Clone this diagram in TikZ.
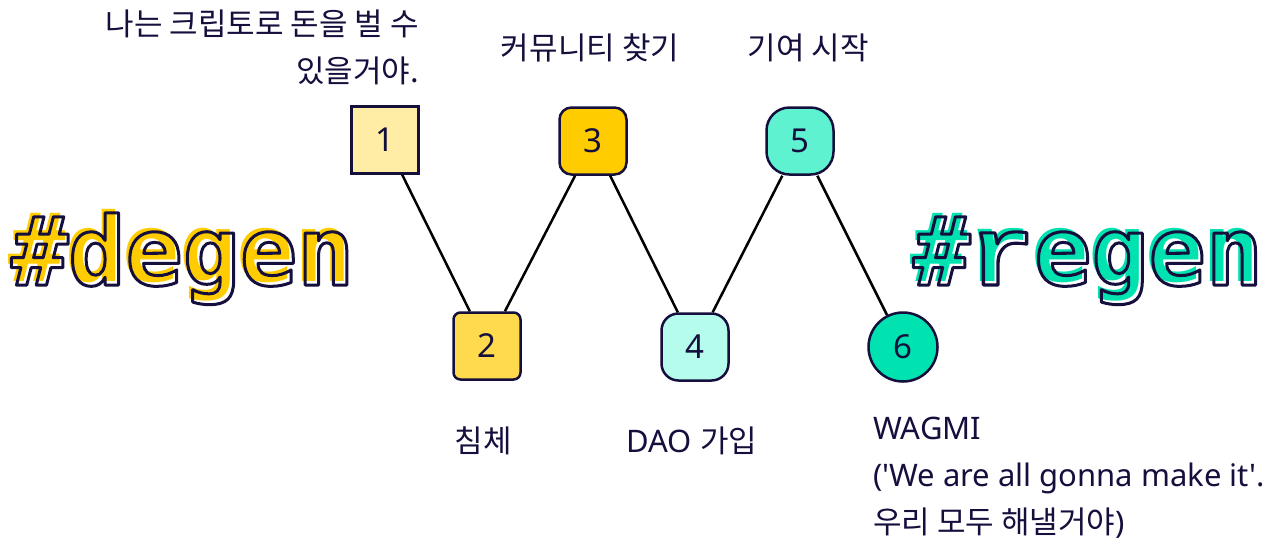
\documentclass[tikz,border=0pt]{standalone}
\usepackage{fontspec}
\usepackage{graphicx}
\setmainfont{Noto Sans}
\newfontfamily\kr{Noto Sans CJK KR}
\newfontfamily\hashfont{DejaVu Sans Mono Bold}
\newfontfamily\slabfont{Liberation Mono Bold}
\newcommand\outlineon{\special{pdf:literal direct 1 Tr 3 w 1 j}}
\newcommand\outlineoff{\special{pdf:literal direct 0 Tr}}
\newcommand\numfont{\fontsize{33pt}{33pt}\selectfont}
\newcommand\lblfont{\fontsize{31pt}{47pt}\selectfont}
\newcommand\hashsize{\fontsize{95pt}{95pt}\selectfont}
\newcommand\slabr{{\slabfont\scalebox{1.12}[1.04]{r}}}
\definecolor{navy}{HTML}{140F3C}
\definecolor{ya}{HTML}{FFEDA6}
\definecolor{yb}{HTML}{FFDA4D}
\definecolor{yc}{HTML}{FFCC00}
\definecolor{ga}{HTML}{B5FCEC}
\definecolor{gb}{HTML}{5EF2D0}
\definecolor{gc}{HTML}{00E2B0}
\begin{document}
\begin{tikzpicture}[x=1pt,y=-1pt,
  box/.style={draw=navy, line width=2.5pt, minimum size=67pt, inner sep=0pt, font=\numfont, text=navy},
  link/.style={draw=black, line width=2.5pt},
  lbl/.style={inner sep=0pt, text=navy, font=\lblfont},
  hash/.style={inner sep=0pt, font=\hashsize}]
\useasboundingbox (0,0) rectangle (1273,542);
% hashtags
\node[hash, text=yc, anchor=base west] (degenfill) at (8,281) {\hashfont\#degen};
\node[hash, text=navy, anchor=base west] (degenline) at (11,285) {\outlineon\hashfont\#degen\outlineoff};
\node[hash, text=gc, anchor=base west] (regenfill) at (910,281) {\hashfont\#\slabr egen};
\node[hash, text=navy, anchor=base west] (regenline) at (913,285) {\outlineon\hashfont\#\slabr egen\outlineoff};
% boxes
\node[box, fill=ya] (n1) at (385,140) {1};
\node[box, fill=yb, rounded corners=7pt] (n2) at (487,346) {2};
\node[box, fill=yc, rounded corners=12pt] (n3) at (593,141) {3};
\node[box, fill=ga, rounded corners=17pt] (n4) at (695,347) {4};
\node[box, fill=gb, rounded corners=23pt] (n5) at (800,141) {5};
\node[box, fill=gc, circle, minimum size=69pt] (n6) at (903,347) {6};
% connectors
\draw[link] (n1) -- (n2);
\draw[link] (n2) -- (n3);
\draw[link] (n3) -- (n4);
\draw[link] (n4) -- (n5);
\draw[link] (n5) -- (n6);
% labels
\node[lbl, align=right, anchor=north east] (l1) at (419,10) {\kr 나는 크립토로 돈을 벌 수\\\kr 있을거야.};
\node[lbl, anchor=base] (l3) at (590,59) {\kr 커뮤니티 찾기};
\node[lbl, anchor=base] (l5) at (808,59) {\kr 기여 시작};
\node[lbl, anchor=base] (l2) at (483,452) {\kr 침체};
\node[lbl, anchor=base] (l4) at (692,452) {DAO {\kr 가입}};
\node[lbl, align=left, anchor=north west] (l6) at (873,417) {WAGMI\\(\textquotesingle We are all gonna make it\textquotesingle.\\{\kr 우리 모두 해낼거야})};
\end{tikzpicture}
\end{document}
